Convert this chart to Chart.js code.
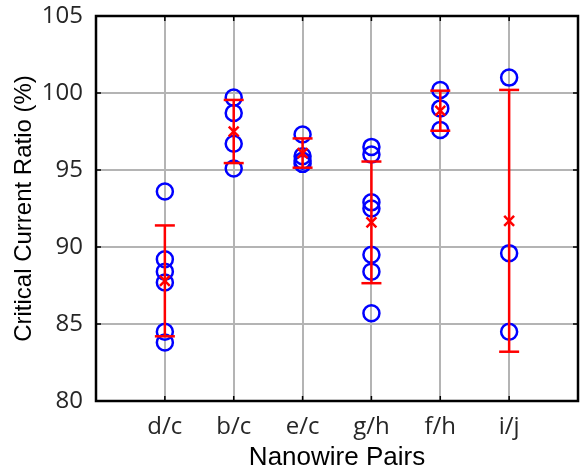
<!DOCTYPE html>
<html>
<head>
<meta charset="utf-8">
<script src="https://cdn.jsdelivr.net/npm/chart.js@4"></script>
<style>
  html, body { margin: 0; padding: 0; background: #fff; }
  #wrap { width: 580px; height: 473px; }
</style>
</head>
<body>
<div id="wrap"><canvas id="ratioChart" width="580" height="473"></canvas></div>
<script>
// Nanowire pairs on the x axis
const pairs = ['d/c', 'b/c', 'e/c', 'g/h', 'f/h', 'i/j'];

// Individual measurements per pair (%)
const measurements = [
    [93.6, 89.2, 88.4, 87.7, 84.5, 83.8],
    [99.7, 98.7, 96.7, 95.1],
    [97.3, 95.9, 95.6, 95.4],
    [96.5, 96.0, 92.9, 92.5, 89.5, 88.4, 85.7],
    [100.2, 99.0, 97.6],
    [101.0, 89.6, 84.5]
];

// Mean and error bar half-width per pair
const means = [87.8, 97.5, 96.1, 91.6, 98.85, 91.7];
const errors = [3.6, 2.05, 0.95, 3.95, 1.3, 8.5];

const yTicks = [80, 85, 90, 95, 100, 105];

// scatter points for the measurements
const pointData = [];
measurements.forEach((vals, i) => {
    vals.forEach(v => pointData.push({ x: i + 1, y: v }));
});

const meanData = means.map((m, i) => ({ x: i + 1, y: m }));
const capData = [];
const barData = [];
means.forEach((m, i) => {
    capData.push({ x: i + 1, y: m - errors[i] });
    capData.push({ x: i + 1, y: m + errors[i] });
    barData.push({ x: i + 1, y: m - errors[i] });
    barData.push({ x: i + 1, y: m + errors[i] });
    barData.push({ x: i + 1, y: null });
});

/**
 * Box frame and inward tick marks, like the original plot
 */
const framePlugin = {
    id: 'frame',
    afterDraw(chart) {
        const { ctx, chartArea: a, scales } = chart;
        ctx.save();
        ctx.strokeStyle = '#000';
        ctx.lineWidth = 1.5;
        yTicks.forEach(t => {
            const y = scales.y.getPixelForValue(t);
            ctx.beginPath();
            ctx.moveTo(a.left, y);
            ctx.lineTo(a.left + 5, y);
            ctx.moveTo(a.right, y);
            ctx.lineTo(a.right - 5, y);
            ctx.stroke();
        });
        pairs.forEach((p, i) => {
            const x = scales.x.getPixelForValue(i + 1);
            ctx.beginPath();
            ctx.moveTo(x, a.bottom);
            ctx.lineTo(x, a.bottom - 5);
            ctx.moveTo(x, a.top);
            ctx.lineTo(x, a.top + 5);
            ctx.stroke();
        });
        ctx.lineWidth = 2.5;
        ctx.strokeRect(a.left, a.top, a.right - a.left, a.bottom - a.top);
        ctx.restore();
    }
};

new Chart(document.getElementById('ratioChart'), {
    type: 'scatter',
    data: {
        datasets: [
            {
                label: 'mean',
                data: meanData,
                pointStyle: 'crossRot',
                pointRadius: 7,
                borderColor: '#ff0000',
                borderWidth: 2.5,
                order: 0
            },
            {
                label: 'caps',
                data: capData,
                pointStyle: 'line',
                pointRadius: 10,
                borderColor: '#ff0000',
                borderWidth: 2.5,
                order: 1
            },
            {
                label: 'bars',
                type: 'line',
                data: barData,
                borderColor: '#ff0000',
                borderWidth: 2.5,
                pointRadius: 0,
                spanGaps: false,
                order: 2
            },
            {
                label: 'measurements',
                data: pointData,
                pointStyle: 'circle',
                pointRadius: 8,
                borderColor: '#0000ff',
                backgroundColor: 'rgba(0,0,0,0)',
                borderWidth: 2.5,
                order: 3
            }
        ]
    },
    options: {
        responsive: false,
        animation: false,
        layout: {
            autoPadding: false,
            padding: { top: 16, right: 2, left: 0, bottom: 0 }
        },
        plugins: {
            legend: { display: false },
            tooltip: { enabled: false }
        },
        scales: {
            x: {
                type: 'linear',
                min: 0,
                max: 7,
                afterBuildTicks: scale => {
                    scale.ticks = pairs.map((p, i) => ({ value: i + 1 }));
                },
                afterFit: scale => {
                    scale.height = 72;
                    scale.paddingLeft = 0;
                    scale.paddingRight = 0;
                },
                grid: {
                    color: '#b4b4b4',
                    lineWidth: 2,
                    drawTicks: false
                },
                border: { display: false },
                ticks: {
                    padding: 12,
                    color: '#262626',
                    font: { family: 'Open Sans', size: 24 },
                    callback: v => pairs[v - 1] || ''
                },
                title: {
                    display: true,
                    text: 'Nanowire Pairs',
                    color: '#000',
                    font: { family: 'Liberation Sans', size: 26 },
                    padding: { top: 0, bottom: 0 }
                }
            },
            y: {
                min: 80,
                max: 105,
                afterBuildTicks: scale => {
                    scale.ticks = yTicks.map(v => ({ value: v }));
                },
                afterFit: scale => {
                    scale.width = 96;
                    scale.paddingTop = 0;
                    scale.paddingBottom = 0;
                },
                grid: {
                    color: '#b4b4b4',
                    lineWidth: 2,
                    drawTicks: false
                },
                border: { display: false },
                ticks: {
                    padding: 13,
                    color: '#262626',
                    font: { family: 'Open Sans', size: 24 }
                },
                title: {
                    display: true,
                    text: 'Critical Current Ratio (%)',
                    color: '#000',
                    font: { family: 'Liberation Sans', size: 24 },
                    padding: { top: 10, bottom: 0 }
                }
            }
        }
    },
    plugins: [framePlugin]
});
</script>
</body>
</html>
